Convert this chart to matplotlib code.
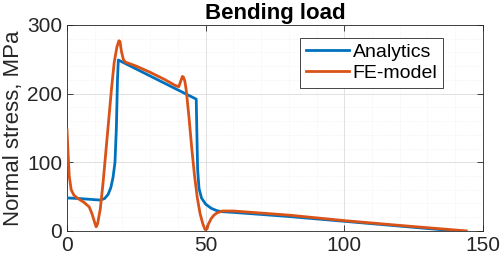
import matplotlib
matplotlib.use("Agg")
import matplotlib.pyplot as plt
from matplotlib.ticker import MultipleLocator

plt.rcParams['font.family'] = ['Liberation Sans', 'DejaVu Sans']

# Analytics series
ana_x = [0, 5, 10, 12, 13.5, 14.8, 15.8, 16.6, 17.3, 17.8, 18.2, 18.5, 46.6, 46.8, 47.1, 47.6,
         48.5, 50, 52, 54, 56, 60, 80, 100, 120, 140]
ana_y = [48, 47, 45.5, 45, 47, 53, 63, 78, 100, 150, 220, 249, 192, 150, 90, 62,
         48, 39, 33, 29.5, 28, 27, 21, 14, 7, 0]

# FE-model series
fe_x = [0, 0.3, 0.8, 1.5, 2.5, 4, 6, 8, 9, 10, 10.5, 11, 12, 13, 14, 15, 16, 17, 18,
        18.7, 19.1, 19.6, 20.3, 21, 25, 30, 35, 39, 40.3, 41, 41.6, 42, 42.5, 43, 43.5,
        44, 45, 46, 47, 48, 49, 49.8, 50.5, 51, 52, 53, 54, 56, 60, 80, 100, 120, 144]
fe_y = [147, 120, 80, 60, 52, 47, 42, 35, 25, 12, 6, 10, 32, 70, 115, 160, 205, 245, 268,
        277, 276, 262, 250, 246, 240, 231, 221, 212, 210, 218, 225, 224, 218, 205, 185,
        165, 120, 80, 48, 25, 10, 2, 3, 10, 18, 23, 26, 29, 29, 23, 15, 8, 0]

x_ticks = [0, 50, 100, 150]
y_ticks = [0, 100, 200, 300]

fig = plt.figure(figsize=(5.02, 2.63), dpi=100)
ax = fig.add_axes([0.1335, 0.122, 0.8285, 0.783])

ax.plot(ana_x, ana_y, color='#0072BD', lw=2.0, label='Analytics', zorder=3)
ax.plot(fe_x, fe_y, color='#D95319', lw=2.0, label='FE-model', zorder=4)

ax.set_xlim(0, 150)
ax.set_ylim(0, 300)
ax.set_xticks(x_ticks)
ax.set_yticks(y_ticks)
ax.xaxis.set_minor_locator(MultipleLocator(10))
ax.yaxis.set_minor_locator(MultipleLocator(20))
ax.grid(True, which='major', color='#dcdcdc', lw=0.6)
ax.grid(True, which='minor', color='#ececec', lw=0.5, ls=':')
ax.set_axisbelow(True)
ax.tick_params(which='both', direction='in', top=True, right=True, colors='#262626',
               labelsize=15, labelcolor='#262626')
ax.tick_params(which='major', length=4, width=0.6)
ax.tick_params(which='minor', length=0)
for s in ax.spines.values():
    s.set_color('#262626')
    s.set_linewidth(0.6)

ax.set_title('Bending load', fontsize=16, fontweight='bold', pad=4)
ax.set_ylabel('Normal stress, MPa', fontsize=16, color='#262626', labelpad=2)

leg = ax.legend(loc='upper right', fontsize=14, frameon=True, fancybox=False,
                edgecolor='#262626', framealpha=1, handlelength=2.2,
                borderpad=0.3, labelspacing=0.15, handletextpad=0.2,
                bbox_to_anchor=(0.928, 0.985))
leg.get_frame().set_linewidth(0.6)

fig.savefig('out.png', dpi=100)
